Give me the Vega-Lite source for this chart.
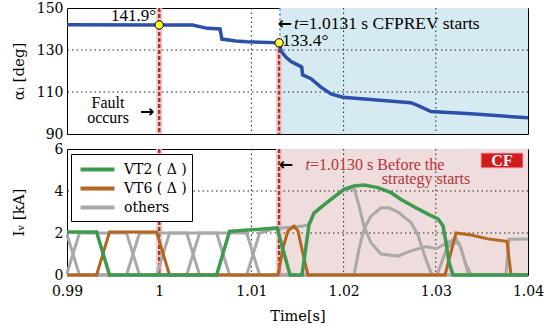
{
  "$schema": "https://vega.github.io/schema/vega-lite/v6.json",
  "padding": {"left": 10, "top": 0, "right": 5, "bottom": 3},
  "spacing": 15,
  "bounds": "flush",
  "config": {
    "view": {"stroke": "black", "strokeWidth": 1},
    "axis": {"labelColor": "black", "titleColor": "black", "grid": false, "ticks": false, "domain": false}
  },
  "datasets": {
    "alpha": [
      {"t": 0.99, "y": 142.0}, {"t": 1.0, "y": 141.9}, {"t": 1.0036, "y": 141.9}, {"t": 1.00525, "y": 140.3}, {"t": 1.0066, "y": 140.0}, {"t": 1.0068, "y": 135.2}, {"t": 1.0083, "y": 134.3}, {"t": 1.0095, "y": 133.9}, {"t": 1.013, "y": 133.4}, {"t": 1.0131, "y": 132.8}, {"t": 1.01321, "y": 129.5}, {"t": 1.01376, "y": 126.5}, {"t": 1.0143, "y": 124.5}, {"t": 1.01538, "y": 122.1}, {"t": 1.01546, "y": 121.8}, {"t": 1.01555, "y": 118.2}, {"t": 1.01646, "y": 116.3}, {"t": 1.01754, "y": 112.3}, {"t": 1.01863, "y": 109.1}, {"t": 1.0199, "y": 107.5}, {"t": 1.02295, "y": 106.4}, {"t": 1.02729, "y": 104.9}, {"t": 1.02802, "y": 103.6}, {"t": 1.02948, "y": 100.7}, {"t": 1.03382, "y": 99.6}, {"t": 1.04, "y": 97.7}
    ],
    "iv": [
      {"s": "A", "g": "others", "t": 0.99, "v": 0.07}, {"s": "A", "g": "others", "t": 0.99135, "v": 2.0}, {"s": "A", "g": "others", "t": 0.99646, "v": 2.0}, {"s": "A", "g": "others", "t": 0.99786, "v": 0}, {"s": "A", "g": "others", "t": 1.00949, "v": 0}, {"s": "A", "g": "others", "t": 1.01089, "v": 2.0}, {"s": "A", "g": "others", "t": 1.0125, "v": 2.2}, {"s": "A", "g": "others", "t": 1.0156, "v": 2.33}, {"s": "A", "g": "others", "t": 1.01625, "v": 2.4}, {"s": "A", "g": "others", "t": 1.01679, "v": 2.95}, {"s": "A", "g": "others", "t": 1.01777, "v": 3.3}, {"s": "A", "g": "others", "t": 1.01863, "v": 3.6}, {"s": "A", "g": "others", "t": 1.02004, "v": 4.05}, {"s": "A", "g": "others", "t": 1.02113, "v": 4.15}, {"s": "A", "g": "others", "t": 1.02167, "v": 3.3}, {"s": "A", "g": "others", "t": 1.02221, "v": 2.33}, {"s": "A", "g": "others", "t": 1.02297, "v": 1.54}, {"s": "A", "g": "others", "t": 1.02406, "v": 1.0}, {"s": "A", "g": "others", "t": 1.0259, "v": 0.9}, {"s": "A", "g": "others", "t": 1.02731, "v": 1.15}, {"s": "A", "g": "others", "t": 1.02894, "v": 1.35}, {"s": "A", "g": "others", "t": 1.03002, "v": 1.25}, {"s": "A", "g": "others", "t": 1.03111, "v": 1.5}, {"s": "A", "g": "others", "t": 1.03219, "v": 1.75}, {"s": "A", "g": "others", "t": 1.03273, "v": 1.3}, {"s": "A", "g": "others", "t": 1.03349, "v": 0.1}, {"s": "A", "g": "others", "t": 1.03382, "v": 0}, {"s": "A", "g": "others", "t": 1.04, "v": 0},
      {"s": "B", "g": "others", "t": 0.99, "v": 0}, {"s": "B", "g": "others", "t": 0.99646, "v": 0}, {"s": "B", "g": "others", "t": 0.99786, "v": 2.0}, {"s": "B", "g": "others", "t": 1.00298, "v": 2.0}, {"s": "B", "g": "others", "t": 1.00438, "v": 0}, {"s": "B", "g": "others", "t": 1.02113, "v": 0}, {"s": "B", "g": "others", "t": 1.02167, "v": 1.24}, {"s": "B", "g": "others", "t": 1.02221, "v": 2.2}, {"s": "B", "g": "others", "t": 1.02297, "v": 2.8}, {"s": "B", "g": "others", "t": 1.02406, "v": 3.2}, {"s": "B", "g": "others", "t": 1.02492, "v": 3.2}, {"s": "B", "g": "others", "t": 1.0259, "v": 3.0}, {"s": "B", "g": "others", "t": 1.02731, "v": 2.5}, {"s": "B", "g": "others", "t": 1.02807, "v": 1.9}, {"s": "B", "g": "others", "t": 1.02872, "v": 1.0}, {"s": "B", "g": "others", "t": 1.02948, "v": 0.1}, {"s": "B", "g": "others", "t": 1.02981, "v": 0}, {"s": "B", "g": "others", "t": 1.04, "v": 0},
      {"s": "C", "g": "others", "t": 0.99, "v": 0}, {"s": "C", "g": "others", "t": 0.99972, "v": 0}, {"s": "C", "g": "others", "t": 1.00112, "v": 2.0}, {"s": "C", "g": "others", "t": 1.00623, "v": 2.0}, {"s": "C", "g": "others", "t": 1.00763, "v": 0}, {"s": "C", "g": "others", "t": 1.03013, "v": 0}, {"s": "C", "g": "others", "t": 1.03121, "v": 1.3}, {"s": "C", "g": "others", "t": 1.03187, "v": 1.55}, {"s": "C", "g": "others", "t": 1.03252, "v": 1.5}, {"s": "C", "g": "others", "t": 1.03328, "v": 0.5}, {"s": "C", "g": "others", "t": 1.03382, "v": 0}, {"s": "C", "g": "others", "t": 1.04, "v": 0},
      {"s": "D", "g": "others", "t": 0.99, "v": 1.93}, {"s": "D", "g": "others", "t": 0.99135, "v": 0}, {"s": "D", "g": "others", "t": 1.00298, "v": 0}, {"s": "D", "g": "others", "t": 1.00438, "v": 2.0}, {"s": "D", "g": "others", "t": 1.00949, "v": 2.0}, {"s": "D", "g": "others", "t": 1.01089, "v": 0}, {"s": "D", "g": "others", "t": 1.03761, "v": 0}, {"s": "D", "g": "others", "t": 1.03794, "v": 1.7}, {"s": "D", "g": "others", "t": 1.04, "v": 1.72},
      {"s": "VT6", "g": "VT6 ( Δ )", "t": 0.99, "v": 0}, {"s": "VT6", "g": "VT6 ( Δ )", "t": 0.99321, "v": 0}, {"s": "VT6", "g": "VT6 ( Δ )", "t": 0.99461, "v": 2.05}, {"s": "VT6", "g": "VT6 ( Δ )", "t": 0.99972, "v": 2.05}, {"s": "VT6", "g": "VT6 ( Δ )", "t": 1.00112, "v": 0}, {"s": "VT6", "g": "VT6 ( Δ )", "t": 1.01289, "v": 0}, {"s": "VT6", "g": "VT6 ( Δ )", "t": 1.01343, "v": 1.3}, {"s": "VT6", "g": "VT6 ( Δ )", "t": 1.01397, "v": 2.1}, {"s": "VT6", "g": "VT6 ( Δ )", "t": 1.01462, "v": 2.33}, {"s": "VT6", "g": "VT6 ( Δ )", "t": 1.01505, "v": 2.1}, {"s": "VT6", "g": "VT6 ( Δ )", "t": 1.0156, "v": 1.0}, {"s": "VT6", "g": "VT6 ( Δ )", "t": 1.01614, "v": 0}, {"s": "VT6", "g": "VT6 ( Δ )", "t": 1.031, "v": 0}, {"s": "VT6", "g": "VT6 ( Δ )", "t": 1.03219, "v": 2.0}, {"s": "VT6", "g": "VT6 ( Δ )", "t": 1.03382, "v": 1.9}, {"s": "VT6", "g": "VT6 ( Δ )", "t": 1.03566, "v": 1.72}, {"s": "VT6", "g": "VT6 ( Δ )", "t": 1.0374, "v": 1.62}, {"s": "VT6", "g": "VT6 ( Δ )", "t": 1.03772, "v": 1.6}, {"s": "VT6", "g": "VT6 ( Δ )", "t": 1.03816, "v": 0}, {"s": "VT6", "g": "VT6 ( Δ )", "t": 1.04, "v": 0},
      {"s": "VT2", "g": "VT2 ( Δ )", "t": 0.99, "v": 2.05}, {"s": "VT2", "g": "VT2 ( Δ )", "t": 0.99321, "v": 2.05}, {"s": "VT2", "g": "VT2 ( Δ )", "t": 0.99461, "v": 0}, {"s": "VT2", "g": "VT2 ( Δ )", "t": 1.00623, "v": 0}, {"s": "VT2", "g": "VT2 ( Δ )", "t": 1.00763, "v": 2.08}, {"s": "VT2", "g": "VT2 ( Δ )", "t": 1.01, "v": 2.15}, {"s": "VT2", "g": "VT2 ( Δ )", "t": 1.012, "v": 2.22}, {"s": "VT2", "g": "VT2 ( Δ )", "t": 1.01278, "v": 2.25}, {"s": "VT2", "g": "VT2 ( Δ )", "t": 1.01419, "v": 0}, {"s": "VT2", "g": "VT2 ( Δ )", "t": 1.01549, "v": 0}, {"s": "VT2", "g": "VT2 ( Δ )", "t": 1.01625, "v": 2.4}, {"s": "VT2", "g": "VT2 ( Δ )", "t": 1.01679, "v": 2.95}, {"s": "VT2", "g": "VT2 ( Δ )", "t": 1.01777, "v": 3.3}, {"s": "VT2", "g": "VT2 ( Δ )", "t": 1.01863, "v": 3.6}, {"s": "VT2", "g": "VT2 ( Δ )", "t": 1.02004, "v": 4.08}, {"s": "VT2", "g": "VT2 ( Δ )", "t": 1.02113, "v": 4.24}, {"s": "VT2", "g": "VT2 ( Δ )", "t": 1.02221, "v": 4.28}, {"s": "VT2", "g": "VT2 ( Δ )", "t": 1.02373, "v": 4.16}, {"s": "VT2", "g": "VT2 ( Δ )", "t": 1.02514, "v": 3.92}, {"s": "VT2", "g": "VT2 ( Δ )", "t": 1.02623, "v": 3.6}, {"s": "VT2", "g": "VT2 ( Δ )", "t": 1.02764, "v": 3.25}, {"s": "VT2", "g": "VT2 ( Δ )", "t": 1.02915, "v": 2.9}, {"s": "VT2", "g": "VT2 ( Δ )", "t": 1.03024, "v": 2.67}, {"s": "VT2", "g": "VT2 ( Δ )", "t": 1.03078, "v": 2.35}, {"s": "VT2", "g": "VT2 ( Δ )", "t": 1.03111, "v": 1.55}, {"s": "VT2", "g": "VT2 ( Δ )", "t": 1.03143, "v": 0.6}, {"s": "VT2", "g": "VT2 ( Δ )", "t": 1.03187, "v": 0}, {"s": "VT2", "g": "VT2 ( Δ )", "t": 1.04, "v": 0}
    ],
    "shadeTop": [{"t": 1.0131, "t2": 1.04}],
    "shadeBot": [{"t": 1.013, "t2": 1.04}],
    "gridX": [{"t": 1.01}, {"t": 1.02}, {"t": 1.03}],
    "gridTop": [{"y": 110}, {"y": 130}],
    "gridBot": [{"y": 2}, {"y": 4}],
    "faultFull": [{"t": 1.0}],
    "eventsBot": [{"t": 1.0}, {"t": 1.013}],
    "redTopPart": [{"t": 1.013, "y": 133.4, "y2": 90}],
    "blueTopPart": [{"t": 1.0131, "y": 150, "y2": 133.4}],
    "pts": [{"t": 1.0, "y": 141.9}, {"t": 1.013, "y": 133.4}],
    "topTextL": [{"t": 1.01332, "y": 134.5, "label": "133.4°"}, {"t": 1.01516, "y": 142.6, "label": "=1.0131 s  CFPREV starts"}],
    "topTextR": [{"t": 0.99965, "y": 146.0, "label": "141.9°"}],
    "topTextC": [{"t": 0.99445, "y": 104.8, "label": "Fault"}, {"t": 0.99445, "y": 97.6, "label": "occurs"}],
    "topArrows": [{"t": 0.99868, "y": 100.7, "label": "→"}, {"t": 1.01362, "y": 142.6, "label": "←"}],
    "topItalic": [{"t": 1.01516, "y": 142.6, "label": "t"}],
    "botTextL": [{"t": 1.01636, "y": 5.24, "label": "=1.0130 s Before the"}],
    "botTextC": [{"t": 1.02894, "y": 4.55, "label": "strategy starts"}],
    "botItalic": [{"t": 1.01636, "y": 5.24, "label": "t"}],
    "botArrow": [{"t": 1.01376, "y": 5.24, "label": "←"}],
    "cfBox": [{"t": 1.0349, "t2": 1.03946, "y": 5.81, "y2": 5.1}],
    "cfText": [{"t": 1.03718, "y": 5.45, "label": "CF"}]
  },
  "vconcat": [
    {
      "width": 461,
      "height": 126,
      "layer": [
        {"data": {"name": "shadeTop"}, "mark": {"type": "rect", "color": "#d6eaf2"},
         "encoding": {"x": {"field": "t", "type": "quantitative", "scale": {"domain": [0.99, 1.04], "nice": false, "zero": false}, "axis": null}, "x2": {"field": "t2"}}},
        {"data": {"name": "gridX"}, "mark": {"type": "rule", "color": "#222", "strokeWidth": 1, "strokeDash": [1.5, 3]},
         "encoding": {"x": {"field": "t", "type": "quantitative", "axis": null}}},
        {"data": {"name": "gridTop"}, "mark": {"type": "rule", "color": "#222", "strokeWidth": 1, "strokeDash": [1.5, 3]},
         "encoding": {"y": {"field": "y", "type": "quantitative", "title": "αᵢ [deg]"}}},
        {"data": {"name": "faultFull"}, "mark": {"type": "rule", "color": "#f6c6d2", "strokeWidth": 6},
         "encoding": {"x": {"field": "t", "type": "quantitative", "axis": null}}},
        {"data": {"name": "redTopPart"}, "mark": {"type": "rule", "color": "#f6c6d2", "strokeWidth": 6},
         "encoding": {"x": {"field": "t", "type": "quantitative", "axis": null}, "y": {"field": "y", "type": "quantitative", "title": "αᵢ [deg]"}, "y2": {"field": "y2"}}},
        {"data": {"name": "faultFull"}, "mark": {"type": "rule", "color": "#a33b20", "strokeWidth": 2.5, "strokeDash": [4, 2]},
         "encoding": {"x": {"field": "t", "type": "quantitative", "axis": null}}},
        {"data": {"name": "redTopPart"}, "mark": {"type": "rule", "color": "#a33b20", "strokeWidth": 2.5, "strokeDash": [4, 2]},
         "encoding": {"x": {"field": "t", "type": "quantitative", "axis": null}, "y": {"field": "y", "type": "quantitative", "title": "αᵢ [deg]"}, "y2": {"field": "y2"}}},
        {"data": {"name": "blueTopPart"}, "mark": {"type": "rule", "color": "#6fa7d0", "strokeWidth": 1.5, "strokeDash": [3, 2]},
         "encoding": {"x": {"field": "t", "type": "quantitative", "axis": null}, "y": {"field": "y", "type": "quantitative", "title": "αᵢ [deg]"}, "y2": {"field": "y2"}}},
        {"data": {"name": "alpha"}, "mark": {"type": "line", "color": "#2c50a8", "strokeWidth": 3.5},
         "encoding": {"x": {"field": "t", "type": "quantitative", "axis": null},
                      "y": {"field": "y", "type": "quantitative", "title": "αᵢ [deg]", "scale": {"domain": [90, 150], "nice": false, "zero": false},
                            "axis": {"values": [90, 110, 130, 150], "labelFont": "DejaVu Serif", "titleFont": "DejaVu Serif", "labelFontSize": 14, "titleFontSize": 15, "titleFontWeight": "normal", "labelPadding": 4, "minExtent": 28, "maxExtent": 28, "titlePadding": 13}}}},
        {"data": {"name": "pts"}, "mark": {"type": "point", "filled": true, "fill": "#ffff33", "stroke": "black", "strokeWidth": 1, "size": 70, "opacity": 1},
         "encoding": {"x": {"field": "t", "type": "quantitative", "axis": null}, "y": {"field": "y", "type": "quantitative", "title": "αᵢ [deg]"}}},
        {"data": {"name": "topTextL"}, "mark": {"type": "text", "align": "left", "baseline": "middle", "fontSize": 17.5, "font": "Liberation Serif", "color": "black"},
         "encoding": {"x": {"field": "t", "type": "quantitative", "axis": null}, "y": {"field": "y", "type": "quantitative", "title": "αᵢ [deg]"}, "text": {"field": "label"}}},
        {"data": {"name": "topTextR"}, "mark": {"type": "text", "align": "right", "baseline": "middle", "fontSize": 17, "font": "Liberation Serif", "color": "black"},
         "encoding": {"x": {"field": "t", "type": "quantitative", "axis": null}, "y": {"field": "y", "type": "quantitative", "title": "αᵢ [deg]"}, "text": {"field": "label"}}},
        {"data": {"name": "topTextC"}, "mark": {"type": "text", "align": "center", "baseline": "middle", "fontSize": 16, "font": "Liberation Serif", "color": "black"},
         "encoding": {"x": {"field": "t", "type": "quantitative", "axis": null}, "y": {"field": "y", "type": "quantitative", "title": "αᵢ [deg]"}, "text": {"field": "label"}}},
        {"data": {"name": "topArrows"}, "mark": {"type": "text", "align": "center", "baseline": "middle", "fontSize": 17, "fontWeight": "bold", "font": "DejaVu Sans", "color": "black"},
         "encoding": {"x": {"field": "t", "type": "quantitative", "axis": null}, "y": {"field": "y", "type": "quantitative", "title": "αᵢ [deg]"}, "text": {"field": "label"}}},
        {"data": {"name": "topItalic"}, "mark": {"type": "text", "align": "right", "baseline": "middle", "fontSize": 17.5, "fontStyle": "italic", "font": "Liberation Serif", "color": "black"},
         "encoding": {"x": {"field": "t", "type": "quantitative", "axis": null}, "y": {"field": "y", "type": "quantitative", "title": "αᵢ [deg]"}, "text": {"field": "label"}}}
      ]
    },
    {
      "width": 461,
      "height": 126,
      "layer": [
        {"data": {"name": "shadeBot"}, "mark": {"type": "rect", "color": "#efdcdc"},
         "encoding": {"x": {"field": "t", "type": "quantitative", "title": "Time[s]", "scale": {"domain": [0.99, 1.04], "nice": false, "zero": false},
                            "axis": {"values": [0.99, 1, 1.01, 1.02, 1.03, 1.04], "format": "~f", "labelFont": "DejaVu Serif", "titleFont": "DejaVu Serif", "labelFontSize": 14, "titleFontSize": 14.5, "titleFontWeight": "normal", "labelFlush": false, "labelPadding": 9, "titlePadding": 11, "labelDx": 3}},
                      "x2": {"field": "t2"}}},
        {"data": {"name": "gridX"}, "mark": {"type": "rule", "color": "#222", "strokeWidth": 1, "strokeDash": [1.5, 3]},
         "encoding": {"x": {"field": "t", "type": "quantitative", "title": "Time[s]"}}},
        {"data": {"name": "gridBot"}, "mark": {"type": "rule", "color": "#222", "strokeWidth": 1, "strokeDash": [1.5, 3]},
         "encoding": {"y": {"field": "y", "type": "quantitative", "title": "Iᵥ [kA]"}}},
        {"data": {"name": "eventsBot"}, "mark": {"type": "rule", "color": "#f6c6d2", "strokeWidth": 6},
         "encoding": {"x": {"field": "t", "type": "quantitative", "title": "Time[s]"}}},
        {"data": {"name": "eventsBot"}, "mark": {"type": "rule", "color": "#a33b20", "strokeWidth": 2.5, "strokeDash": [4, 2]},
         "encoding": {"x": {"field": "t", "type": "quantitative", "title": "Time[s]"}}},
        {"data": {"name": "iv"}, "transform": [{"filter": "datum.g === 'others'"}], "mark": {"type": "line", "strokeWidth": 3},
         "encoding": {"x": {"field": "t", "type": "quantitative", "title": "Time[s]"},
                      "y": {"field": "v", "type": "quantitative", "title": "Iᵥ [kA]", "scale": {"domain": [0, 6], "nice": false, "zero": false},
                            "axis": {"values": [0, 2, 4, 6], "labelFont": "DejaVu Serif", "titleFont": "DejaVu Serif", "labelFontSize": 14, "titleFontSize": 15, "titleFontWeight": "normal", "labelPadding": 4, "minExtent": 28, "maxExtent": 28, "titlePadding": 13}},
                      "detail": {"field": "s"},
                      "color": {"field": "g", "type": "nominal", "scale": {"domain": ["VT2 ( Δ )", "VT6 ( Δ )", "others"], "range": ["#3d9a4e", "#b5651d", "#a9a9a9"]},
                                "legend": {"title": null, "orient": "none", "legendX": 4, "legendY": 146, "fillColor": "white", "strokeColor": "black", "padding": 5, "symbolType": "M-2,0L2,0", "symbolSize": 289, "symbolStrokeWidth": 4, "symbolOffset": 11, "labelOffset": 16, "rowPadding": 0, "labelFont": "DejaVu Serif", "labelFontSize": 14}}}},
        {"data": {"name": "iv"}, "transform": [{"filter": "datum.g === 'VT6 ( Δ )'"}], "mark": {"type": "line", "strokeWidth": 3},
         "encoding": {"x": {"field": "t", "type": "quantitative", "title": "Time[s]"},
                      "y": {"field": "v", "type": "quantitative", "title": "Iᵥ [kA]"},
                      "color": {"field": "g", "type": "nominal"}}},
        {"data": {"name": "iv"}, "transform": [{"filter": "datum.g === 'VT2 ( Δ )'"}], "mark": {"type": "line", "strokeWidth": 3.5},
         "encoding": {"x": {"field": "t", "type": "quantitative", "title": "Time[s]"},
                      "y": {"field": "v", "type": "quantitative", "title": "Iᵥ [kA]"},
                      "color": {"field": "g", "type": "nominal"}}},
        {"data": {"name": "cfBox"}, "mark": {"type": "rect", "color": "#d01c1c", "stroke": "#f2a8b8", "strokeWidth": 1},
         "encoding": {"x": {"field": "t", "type": "quantitative", "title": "Time[s]"}, "x2": {"field": "t2"}, "y": {"field": "y", "type": "quantitative", "title": "Iᵥ [kA]"}, "y2": {"field": "y2"}}},
        {"data": {"name": "cfText"}, "mark": {"type": "text", "align": "center", "baseline": "middle", "fontSize": 16, "fontWeight": "bold", "font": "Liberation Serif", "color": "white"},
         "encoding": {"x": {"field": "t", "type": "quantitative", "title": "Time[s]"}, "y": {"field": "y", "type": "quantitative", "title": "Iᵥ [kA]"}, "text": {"field": "label"}}},
        {"data": {"name": "botTextL"}, "mark": {"type": "text", "align": "left", "baseline": "middle", "fontSize": 16, "font": "Liberation Serif", "color": "#b3343a"},
         "encoding": {"x": {"field": "t", "type": "quantitative", "title": "Time[s]"}, "y": {"field": "y", "type": "quantitative", "title": "Iᵥ [kA]"}, "text": {"field": "label"}}},
        {"data": {"name": "botTextC"}, "mark": {"type": "text", "align": "center", "baseline": "middle", "fontSize": 16, "font": "Liberation Serif", "color": "#b3343a"},
         "encoding": {"x": {"field": "t", "type": "quantitative", "title": "Time[s]"}, "y": {"field": "y", "type": "quantitative", "title": "Iᵥ [kA]"}, "text": {"field": "label"}}},
        {"data": {"name": "botItalic"}, "mark": {"type": "text", "align": "right", "baseline": "middle", "fontSize": 16, "fontStyle": "italic", "font": "Liberation Serif", "color": "#b3343a"},
         "encoding": {"x": {"field": "t", "type": "quantitative", "title": "Time[s]"}, "y": {"field": "y", "type": "quantitative", "title": "Iᵥ [kA]"}, "text": {"field": "label"}}},
        {"data": {"name": "botArrow"}, "mark": {"type": "text", "align": "center", "baseline": "middle", "fontSize": 17, "fontWeight": "bold", "font": "DejaVu Sans", "color": "black"},
         "encoding": {"x": {"field": "t", "type": "quantitative", "title": "Time[s]"}, "y": {"field": "y", "type": "quantitative", "title": "Iᵥ [kA]"}, "text": {"field": "label"}}}
      ]
    }
  ]
}
